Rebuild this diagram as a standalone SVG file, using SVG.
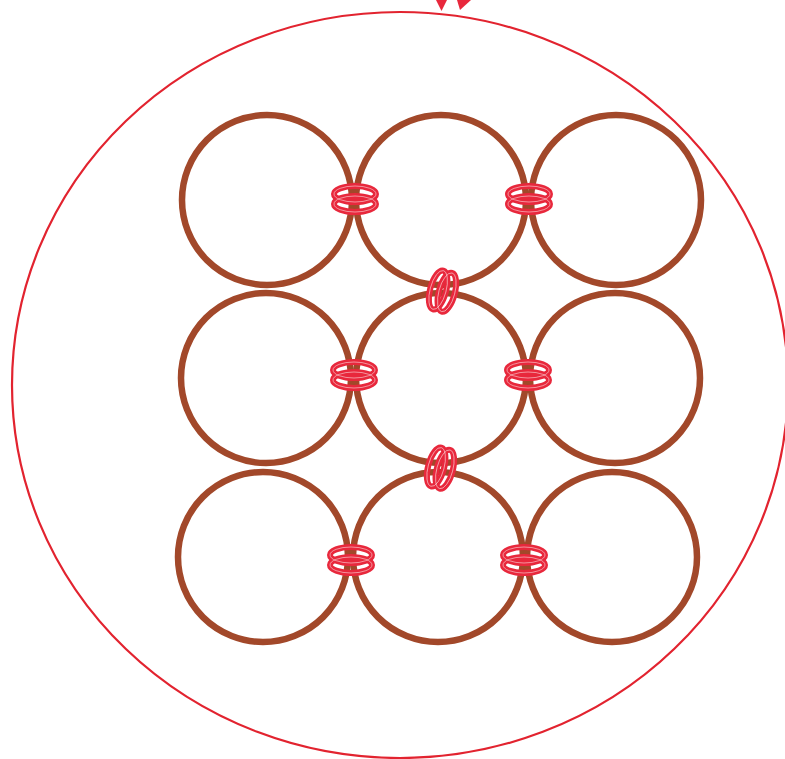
<svg xmlns="http://www.w3.org/2000/svg" width="785" height="759" viewBox="0 0 785 759">
<style>
.cell{fill:none;stroke:#a2482a;stroke-width:6.5}
.ring{fill:none;stroke:#e8283c;stroke-width:6}
.hl{fill:none;stroke:#ffffff;stroke-width:0.9;opacity:0.55}
.outer{fill:none;stroke:#e2232f;stroke-width:2.2}
</style>
<defs>
<g id="hring">
<ellipse class="ring" cx="0" cy="-5" rx="21" ry="8"/>
<ellipse class="ring" cx="0" cy="5" rx="21" ry="8"/>
<ellipse class="hl" cx="0" cy="-5" rx="21" ry="8"/>
<ellipse class="hl" cx="0" cy="5" rx="21" ry="8"/>
</g>
<g id="vring">
<g transform="rotate(15)">
<ellipse class="ring" cx="-4" cy="0" rx="8" ry="20"/>
<ellipse class="ring" cx="5" cy="0" rx="8" ry="20"/>
<ellipse class="hl" cx="-4" cy="0" rx="8" ry="20"/>
<ellipse class="hl" cx="5" cy="0" rx="8" ry="20"/>
</g>
</g>
</defs>
<rect width="785" height="759" fill="#ffffff"/>
<g id="boundary">
<ellipse class="outer" cx="400" cy="385" rx="388" ry="373"/>
<polygon points="436,0 447,0 441.5,11" fill="#e8283c"/>
<polygon points="457,0 471,0 460,10" fill="#e8283c"/>
</g>
<g id="cells">
<circle id="c11" class="cell" cx="267" cy="200" r="85"/>
<circle id="c12" class="cell" cx="441" cy="200" r="85"/>
<circle id="c13" class="cell" cx="616" cy="200" r="85"/>
<circle id="c21" class="cell" cx="266" cy="378" r="85"/>
<circle id="c22" class="cell" cx="441" cy="378" r="85"/>
<circle id="c23" class="cell" cx="615" cy="378" r="85"/>
<circle id="c31" class="cell" cx="263" cy="557" r="85"/>
<circle id="c32" class="cell" cx="438" cy="557" r="85"/>
<circle id="c33" class="cell" cx="612" cy="557" r="85"/>
</g>
<g id="connectors">
<use href="#hring" x="355" y="199"/>
<use href="#hring" x="529" y="199"/>
<use href="#hring" x="354" y="375"/>
<use href="#hring" x="528" y="375"/>
<use href="#hring" x="351" y="560"/>
<use href="#hring" x="524" y="560"/>
<use href="#vring" x="442" y="291"/>
<use href="#vring" x="440" y="468"/>
</g>
</svg>
